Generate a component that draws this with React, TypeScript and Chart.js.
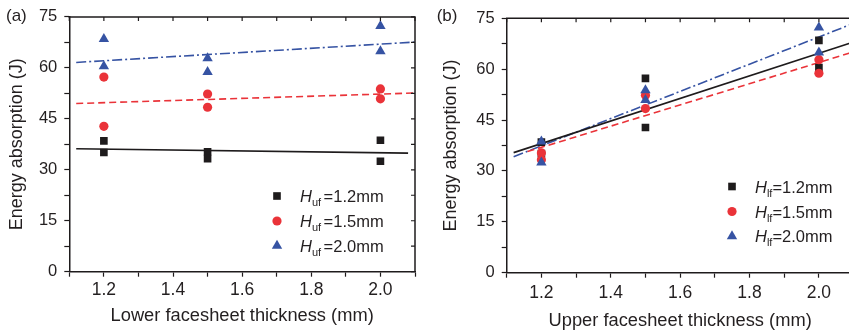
import React, { useEffect, useRef } from "react";
import { Chart, registerables } from "chart.js";

Chart.register(...registerables);

// ---------- data ----------
const thickness = [1.2, 1.2, 1.5, 1.5, 2.0, 2.0];

// Panel (a): x = lower facesheet thickness, series by H_uf
const aHuf12 = [38.5, 35.1, 35.3, 33.3, 38.7, 32.5];
const aHuf15 = [57.3, 42.8, 52.3, 48.4, 53.8, 50.9];
const aHuf20 = [68.5, 60.5, 62.8, 58.8, 72.3, 64.9];
const aFit12X = [1.12, 2.08];
const aFit12Y = [36.2, 34.9];
const aFit15X = [1.12, 2.1];
const aFit15Y = [49.5, 52.6];
const aFit20X = [1.12, 2.1];
const aFit20Y = [61.6, 67.6];

// Panel (b): x = upper facesheet thickness, series by H_lf
const bHlf12 = [38.5, 35.1, 57.3, 42.8, 68.5, 60.5];
const bHlf15 = [35.3, 33.3, 52.3, 48.4, 62.8, 58.8];
const bHlf20 = [38.7, 32.5, 53.8, 50.9, 72.3, 64.9];
const bFit12X = [1.12, 2.1];
const bFit12Y = [35.4, 68.0];
const bFit15X = [1.16, 2.1];
const bFit15Y = [35.7, 65.1];
const bFit20X = [1.12, 2.1];
const bFit20Y = [34.2, 73.5];

const aLegendLabels = ["=1.2mm", "=1.5mm", "=2.0mm"];
const bLegendLabels = ["=1.2mm", "=1.5mm", "=2.0mm"];
const yTickLabels = [0, 15, 30, 45, 60, 75];
const xTickLabels = ["1.2", "1.4", "1.6", "1.8", "2.0"];

// ---------- styles ----------
const FONT = '"Liberation Sans", Arial, Helvetica, sans-serif';
const TEXT = "#231f20";
const BLACK = "#1e1b1c";
const RED = "#ea3339";
const BLUE = "#3653a3";
const SQ_R = 5.4;
const CI_R = 4.6;
const TR_R = 6;

const pts = (xs: number[], ys: number[]) => xs.map((x, i) => ({ x, y: ys[i] }));

function drawMarker(ctx: CanvasRenderingContext2D, shape: string, x: number, y: number, color: string) {
  ctx.fillStyle = color;
  ctx.beginPath();
  if (shape === "rect") {
    const s = SQ_R * Math.SQRT1_2;
    ctx.rect(x - s, y - s, 2 * s, 2 * s);
  } else if (shape === "circle") {
    ctx.arc(x, y, CI_R, 0, Math.PI * 2);
  } else {
    const r = TR_R;
    ctx.moveTo(x, y - r);
    ctx.lineTo(x + r * 0.866, y + r * 0.5);
    ctx.lineTo(x - r * 0.866, y + r * 0.5);
    ctx.closePath();
  }
  ctx.fill();
}

type PanelCfg = {
  canvasLeft: number;
  width: number;
  height: number;
  label: string;
  labelX: number;
  yAxisWidth: number;
  xAxisHeight: number;
  padTop: number;
  padRight: number;
  yTitlePad: number;
  xTitlePad: number;
  xTickPad: number;
  xTitle: string;
  series: number[][];
  fits: { x: number[]; y: number[] }[];
  legendMarkerX: number;
  legendTextX: number;
  legendRows: number[];
  sub: string;
  eqGap: number;
  legendLabels: string[];
};

const shapes = ["rect", "circle", "triangle"];
const colors = [BLACK, RED, BLUE];
const dashes: number[][] = [[], [7, 4], [10, 3, 2, 3]];

function buildChart(canvas: HTMLCanvasElement, p: PanelCfg) {
  const datasets: any[] = [];
  p.fits.forEach((f, i) => {
    datasets.push({
      data: pts(f.x, f.y),
      showLine: true,
      borderColor: colors[i],
      borderWidth: 1.6,
      borderDash: dashes[i],
      pointRadius: 0,
      order: 10,
    });
  });
  p.series.forEach((s, i) => {
    datasets.push({
      data: pts(thickness, s),
      showLine: false,
      pointStyle: shapes[i],
      pointRadius: shapes[i] === "rect" ? SQ_R : shapes[i] === "circle" ? CI_R : TR_R,
      backgroundColor: colors[i],
      borderColor: colors[i],
      borderWidth: 0,
      order: 3 - i,
    });
  });

  const decor = {
    id: "decor",
    afterDraw(chart: any) {
      const ctx: CanvasRenderingContext2D = chart.ctx;
      const { left, right, top, bottom } = chart.chartArea;
      ctx.save();
      // frame top/right
      ctx.strokeStyle = BLACK;
      ctx.lineWidth = 1.5;
      ctx.beginPath();
      ctx.moveTo(left - 0.75, top);
      ctx.lineTo(right, top);
      ctx.lineTo(right, bottom);
      ctx.stroke();
      // mirror ticks
      ctx.lineWidth = 1.2;
      const xs = chart.scales.x;
      const ys = chart.scales.y;
      ctx.beginPath();
      xs.ticks.forEach((t: any) => {
        const px = xs.getPixelForValue(t.value);
        ctx.moveTo(px, top);
        ctx.lineTo(px, top + 4);
      });
      ys.ticks.forEach((t: any) => {
        const py = ys.getPixelForValue(t.value);
        ctx.moveTo(right, py);
        ctx.lineTo(right - 4, py);
      });
      ctx.stroke();
      // panel label
      ctx.fillStyle = TEXT;
      ctx.font = `17px ${FONT}`;
      ctx.textBaseline = "middle";
      ctx.textAlign = "left";
      ctx.fillText(p.label, p.labelX, 16);
      // legend
      p.legendRows.forEach((ry, i) => {
        drawMarker(ctx, shapes[i], p.legendMarkerX, ry, colors[i]);
        ctx.fillStyle = TEXT;
        ctx.textBaseline = "alphabetic";
        const base = ry + 6;
        ctx.font = `italic 16.5px ${FONT}`;
        ctx.fillText("H", p.legendTextX, base);
        let x = p.legendTextX + ctx.measureText("H").width;
        ctx.font = `11px ${FONT}`;
        ctx.fillText(p.sub, x, base + 4);
        x += ctx.measureText(p.sub).width + p.eqGap;
        ctx.font = `16.5px ${FONT}`;
        ctx.fillText(p.legendLabels[i], x, base);
      });
      ctx.restore();
    },
  };

  return new Chart(canvas, {
    type: "scatter",
    data: { datasets },
    plugins: [decor],
    options: {
      animation: false,
      responsive: false,
      devicePixelRatio: 1,
      layout: { padding: { top: p.padTop, right: p.padRight, bottom: 0, left: 0 } },
      plugins: { legend: { display: false }, tooltip: { enabled: false } },
      scales: {
        x: {
          type: "linear",
          min: 1.1,
          max: 2.1,
          afterFit: (s: any) => {
            s.height = p.xAxisHeight;
          },
          border: { color: BLACK, width: 1.5 },
          grid: { drawOnChartArea: false, tickLength: 5, tickWidth: 1.2, tickColor: BLACK },
          ticks: {
            stepSize: 0.1,
            autoSkip: false,
            maxRotation: 0,
            padding: p.xTickPad,
            color: TEXT,
            font: { family: FONT, size: 17.5 },
            callback: (v: any) => {
              const s = (Math.round(Number(v) * 10) / 10).toFixed(1);
              return xTickLabels.includes(s) ? s : "";
            },
          },
          title: {
            display: true,
            text: p.xTitle,
            color: TEXT,
            font: { family: FONT, size: 18.3, lineHeight: 1 },
            padding: { top: 0, bottom: p.xTitlePad },
          },
        },
        y: {
          type: "linear",
          min: 0,
          max: 75,
          afterFit: (s: any) => {
            s.width = p.yAxisWidth;
          },
          border: { color: BLACK, width: 1.5 },
          grid: { drawOnChartArea: false, tickLength: 5, tickWidth: 1.2, tickColor: BLACK },
          ticks: {
            stepSize: 7.5,
            autoSkip: false,
            padding: 7,
            color: TEXT,
            font: { family: FONT, size: 16.5 },
            callback: (v: any) => (yTickLabels.includes(Number(v)) ? String(v) : ""),
          },
          title: {
            display: true,
            text: "Energy absorption (J)",
            color: TEXT,
            font: { family: FONT, size: 18, lineHeight: 1 },
            padding: { top: p.yTitlePad, bottom: 0 },
          },
        },
      },
    } as any,
  });
}

const panelA: PanelCfg = {
  canvasLeft: 0,
  width: 425,
  height: 330,
  label: "(a)",
  labelX: 6,
  yAxisWidth: 69.3,
  xAxisHeight: 58.3,
  padTop: 16.7,
  padRight: 10,
  yTitlePad: 8,
  xTitlePad: 5,
  xTickPad: 2.8,
  xTitle: "Lower facesheet thickness (mm)",
  series: [aHuf12, aHuf15, aHuf20],
  fits: [
    { x: aFit12X, y: aFit12Y },
    { x: aFit15X, y: aFit15Y },
    { x: aFit20X, y: aFit20Y },
  ],
  legendMarkerX: 277,
  legendTextX: 300,
  legendRows: [196, 221, 245.7],
  sub: "uf",
  eqGap: 2.5,
  legendLabels: aLegendLabels,
};

const panelB: PanelCfg = {
  canvasLeft: 426,
  width: 440,
  height: 330,
  label: "(b)",
  labelX: 10.7,
  yAxisWidth: 80.7,
  xAxisHeight: 57.3,
  padTop: 18.3,
  padRight: 12.4,
  yTitlePad: 15.7,
  xTitlePad: 0,
  xTickPad: 5.1,
  xTitle: "Upper facesheet thickness (mm)",
  series: [bHlf12, bHlf15, bHlf20],
  fits: [
    { x: bFit12X, y: bFit12Y },
    { x: bFit15X, y: bFit15Y },
    { x: bFit20X, y: bFit20Y },
  ],
  legendMarkerX: 732 - 426,
  legendTextX: 755 - 426,
  legendRows: [186.5, 211.5, 236.3],
  sub: "lf",
  eqGap: 0,
  legendLabels: bLegendLabels,
};

function Panel({ cfg }: { cfg: PanelCfg }) {
  const ref = useRef<HTMLCanvasElement | null>(null);
  useEffect(() => {
    if (!ref.current) return;
    const chart = buildChart(ref.current, cfg);
    return () => chart.destroy();
  }, [cfg]);
  return (
    <canvas
      ref={ref}
      width={cfg.width}
      height={cfg.height}
      style={{ position: "absolute", left: cfg.canvasLeft, top: 0, width: cfg.width, height: cfg.height }}
    />
  );
}

export default function App() {
  return (
    <div
      style={{
        position: "fixed",
        left: 0,
        top: 0,
        width: 849,
        height: 330,
        overflow: "hidden",
        background: "#ffffff",
      }}
    >
      <Panel cfg={panelA} />
      <Panel cfg={panelB} />
    </div>
  );
}
